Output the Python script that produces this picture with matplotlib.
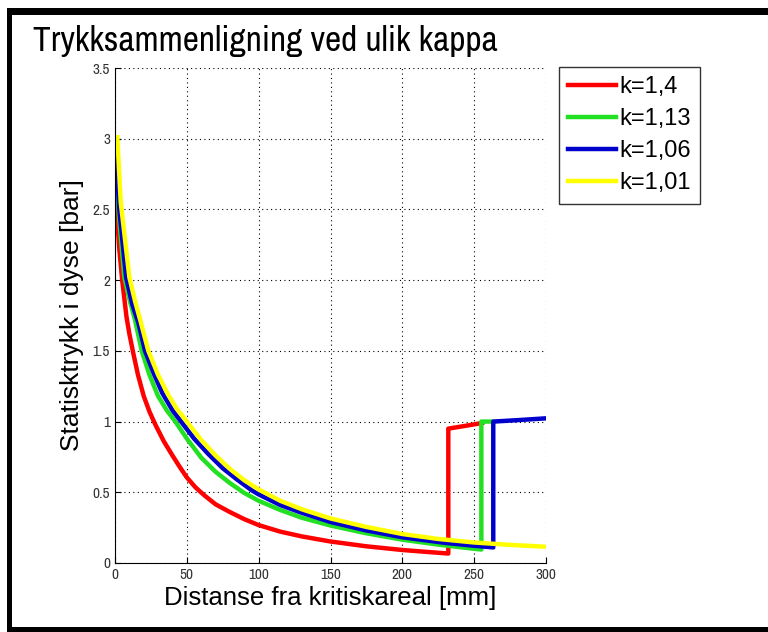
import matplotlib
matplotlib.use("Agg")
import matplotlib.pyplot as plt
from matplotlib import font_manager
from matplotlib.font_manager import FontProperties
from matplotlib.patches import Rectangle

plt.rcParams['font.family'] = ['Liberation Sans', 'DejaVu Sans']

# distance [mm] and static pressure [bar]
x_k140 = [0.8, 3, 5, 8, 10, 12.8, 16, 20, 24, 28, 34, 40, 45, 50, 56, 62, 70, 80, 90,
          100, 115, 130, 150, 175, 200, 215, 232, 232, 244, 255.5]
p_k140 = [2.54, 2.22, 2.0, 1.74, 1.62, 1.48, 1.33, 1.18, 1.07, 0.98, 0.86, 0.76, 0.68, 0.605,
          0.535, 0.48, 0.415, 0.36, 0.31, 0.268, 0.222, 0.188, 0.152, 0.118, 0.092, 0.08,
          0.067, 0.95, 0.97, 0.99]

x_k113 = [0.8, 3, 6.5, 10.4, 13.9, 18.6, 24, 30, 36, 42, 50, 60, 70, 80, 90, 100, 115, 130,
          150, 175, 200, 225, 240, 255, 255, 262.5]
p_k113 = [2.80, 2.42, 2.02, 1.85, 1.72, 1.5, 1.33, 1.18, 1.08, 1.0, 0.88, 0.745, 0.645, 0.565,
          0.495, 0.44, 0.375, 0.32, 0.265, 0.21, 0.165, 0.13, 0.112, 0.095, 1.0, 1.0]

x_k106 = [0.8, 3, 7.7, 12, 16.2, 20.9, 27, 33, 40, 46, 55, 65, 75, 85, 95, 100, 115, 130, 150,
          175, 200, 230, 250, 263.3, 263.3, 280, 300]
p_k106 = [2.87, 2.5, 2.02, 1.83, 1.7, 1.5, 1.34, 1.2, 1.08, 1.0, 0.88, 0.77, 0.67, 0.59, 0.515,
          0.485, 0.41, 0.355, 0.29, 0.23, 0.182, 0.142, 0.122, 0.11, 1.0, 1.01, 1.023]

x_k101 = [1.6, 4, 10, 14, 17.5, 23.2, 30, 37, 43, 50, 60, 70, 80, 90, 100, 115, 130, 150, 175,
          200, 225, 250, 275, 300]
p_k101 = [3.01, 2.55, 2.02, 1.85, 1.72, 1.5, 1.33, 1.19, 1.09, 1.0, 0.87, 0.76, 0.665, 0.585,
          0.52, 0.44, 0.38, 0.315, 0.255, 0.205, 0.17, 0.145, 0.128, 0.115]

labels = ['k=1,4', 'k=1,13', 'k=1,06', 'k=1,01']
colors = ['#ff0000', '#22e022', '#0000cc', '#ffff00']


def narrow_font():
    # a condensed sans face if the system has one
    for f in font_manager.fontManager.ttflist:
        if 'Narrow' in f.name and f.style == 'normal' and f.weight in (400, 'normal', 'regular'):
            return f.fname
    for f in font_manager.fontManager.ttflist:
        if f.name == 'DejaVu Sans' and f.stretch == 'condensed' and f.style == 'normal' \
                and f.weight in (400, 'normal', 'regular', 'book'):
            return f.fname
    return None


W, H = 768, 632
fig = plt.figure(figsize=(W / 100, H / 100), dpi=100)
ax = fig.add_axes([115 / W, 1 - 563 / H, 431 / W, 495 / H])

series = [(x_k140, p_k140), (x_k113, p_k113), (x_k106, p_k106), (x_k101, p_k101)]
for (xs, ps), lab, col in zip(series, labels, colors):
    ax.plot(xs, ps, color=col, lw=3.2, label=lab, solid_joinstyle='round')

ax.set_xlim(0, 300)
ax.set_ylim(0, 3.5)
ax.set_xticks(range(0, 301, 50))
ax.set_yticks([0, 0.5, 1, 1.5, 2, 2.5, 3, 3.5])
ax.set_yticklabels(['0', '0.5', '1', '1.5', '2', '2.5', '3', '3.5'])
ax.grid(True, color='black', linestyle=(0, (1, 3)), lw=0.8)
ax.set_axisbelow(True)
ax.spines['top'].set_visible(False)
ax.spines['right'].set_visible(False)
ax.tick_params(direction='in', labelsize=10, length=4, colors='black')

nf = narrow_font()
for t in ax.get_xticklabels() + ax.get_yticklabels():
    t.set_color('#333333')
    if nf:
        t.set_fontproperties(FontProperties(fname=nf, size=11))

ax.set_xlabel('Distanse fra kritiskareal [mm]', fontsize=18.5, labelpad=3)
ax.set_ylabel('Statisktrykk i dyse [bar]', fontsize=19, labelpad=6)

if nf:
    title_font = FontProperties(fname=nf, size=25.5)
else:
    title_font = FontProperties(family='Liberation Sans', size=23)
fig.text(33 / W, 1 - 51 / H, 'Trykksammenligning ved ulik kappa', fontproperties=title_font,
         ha='left', va='baseline')

leg = ax.legend(loc='upper left', bbox_to_anchor=(559 / W, 1 - 67 / H),
                bbox_transform=fig.transFigure, fontsize=17, frameon=True,
                fancybox=False, handlelength=2.0, handletextpad=0.15,
                borderpad=0.4, labelspacing=0.42, borderaxespad=0)
leg.get_frame().set_edgecolor('black')
leg.get_frame().set_linewidth(1.0)

# black frame round the picture (top, left, bottom)
fig.add_artist(Rectangle((7 / W, 1 - 15 / H), 1, 7 / H, transform=fig.transFigure,
                         color='black', lw=0))
fig.add_artist(Rectangle((7 / W, 0), 5 / W, 1 - 8 / H, transform=fig.transFigure,
                         color='black', lw=0))
fig.add_artist(Rectangle((7 / W, 0), 1, 5 / H, transform=fig.transFigure,
                         color='black', lw=0))

fig.savefig('out.png', dpi=100)
